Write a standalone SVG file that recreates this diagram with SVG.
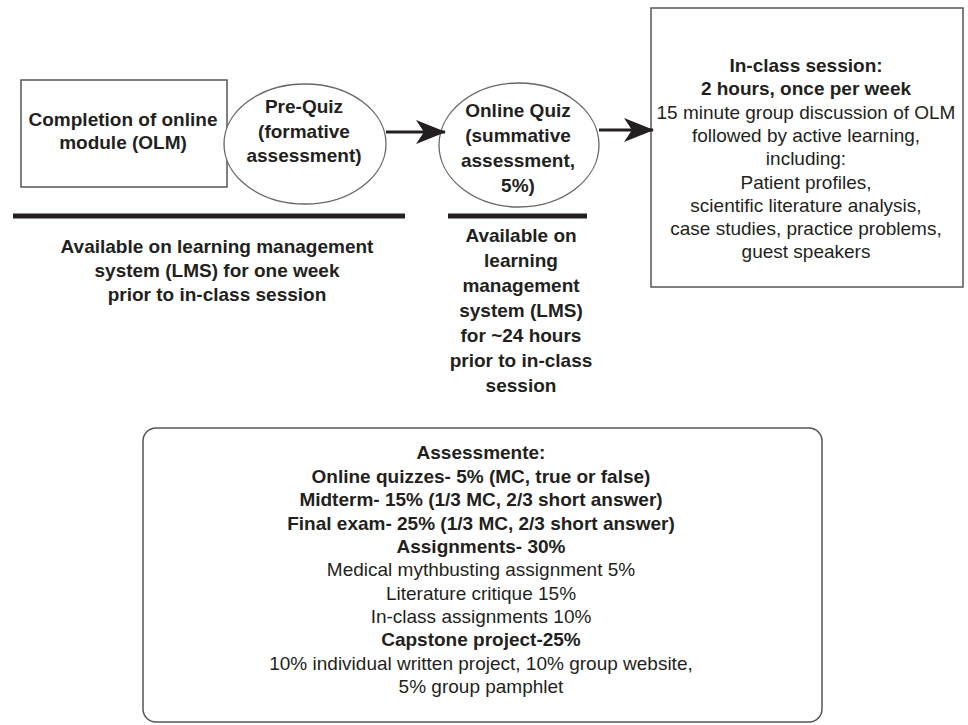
<svg xmlns="http://www.w3.org/2000/svg" width="968" height="725" viewBox="0 0 968 725">
  <defs>
    <style>
      text { font-family: "Liberation Sans", Arial, sans-serif; font-size: 19px; fill: #231f20; text-anchor: middle; }
      .b { font-weight: bold; }
      .box { fill: #ffffff; stroke: #555555; stroke-width: 1.5; }
      .ell { fill: #ffffff; stroke: #666666; stroke-width: 1.3; }
      .bar { stroke: #231f20; stroke-width: 5; }
      .conn { stroke: #231f20; stroke-width: 3; fill: none; }
    </style>
    <marker id="arr" viewBox="0 0 30 24" refX="29" refY="12" markerWidth="30" markerHeight="24" markerUnits="userSpaceOnUse" orient="auto">
      <path d="M0,0 L30,12 L0,24 L8,12 Z" fill="#231f20"/>
    </marker>
  </defs>
  <rect width="968" height="725" fill="#ffffff"/>

  <g id="olm">
    <rect class="box" x="21" y="80" width="206" height="107"/>
    <text class="b" x="123" y="126">Completion of online</text>
    <text class="b" x="123" y="149">module (OLM)</text>
  </g>

  <g id="prequiz">
    <ellipse class="ell" cx="305" cy="144" rx="81" ry="60"/>
    <text class="b" x="304" y="113">Pre-Quiz</text>
    <text class="b" x="304" y="137.5">(formative</text>
    <text class="b" x="304" y="162">assessment)</text>
  </g>

  <g id="onlinequiz">
    <ellipse class="ell" cx="519" cy="145" rx="80" ry="62"/>
    <text class="b" x="518" y="117">Online Quiz</text>
    <text class="b" x="518" y="142">(summative</text>
    <text class="b" x="518" y="167">assessment,</text>
    <text class="b" x="518" y="192">5%)</text>
  </g>

  <g id="inclass">
    <rect class="box" x="651" y="8" width="312" height="279"/>
    <text class="b" x="806" y="72">In-class session:</text>
    <text class="b" x="806" y="95.3">2 hours, once per week</text>
    <text x="806" y="118.6">15 minute group discussion of OLM</text>
    <text x="806" y="141.9">followed by active learning,</text>
    <text x="806" y="165.2">including:</text>
    <text x="806" y="188.5">Patient profiles,</text>
    <text x="806" y="211.8">scientific literature analysis,</text>
    <text x="806" y="235.1">case studies, practice problems,</text>
    <text x="806" y="258.4">guest speakers</text>
  </g>

  <g id="lms-week">
    <line class="bar" x1="13" y1="216" x2="405" y2="216"/>
    <text class="b" x="217" y="253">Available on learning management</text>
    <text class="b" x="217" y="277">system (LMS) for one week</text>
    <text class="b" x="217" y="301">prior to in-class session</text>
  </g>

  <g id="lms-24h">
    <line class="bar" x1="448" y1="216" x2="587" y2="216"/>
    <text class="b" x="521" y="242">Available on</text>
    <text class="b" x="521" y="267">learning</text>
    <text class="b" x="521" y="292">management</text>
    <text class="b" x="521" y="317">system (LMS)</text>
    <text class="b" x="521" y="342">for ~24 hours</text>
    <text class="b" x="521" y="367">prior to in-class</text>
    <text class="b" x="521" y="392">session</text>
  </g>

  <g id="assessment">
    <rect class="box" x="143" y="428" width="679" height="294" rx="13" ry="13"/>
    <text class="b" x="481" y="459">Assessmente:</text>
    <text class="b" x="481" y="482.5">Online quizzes- 5% (MC, true or false)</text>
    <text class="b" x="481" y="506">Midterm- 15% (1/3 MC, 2/3 short answer)</text>
    <text class="b" x="481" y="529.5">Final exam- 25% (1/3 MC, 2/3 short answer)</text>
    <text class="b" x="481" y="553">Assignments- 30%</text>
    <text x="481" y="576">Medical mythbusting assignment 5%</text>
    <text x="481" y="599.5">Literature critique 15%</text>
    <text x="481" y="623">In-class assignments 10%</text>
    <text class="b" x="481" y="646">Capstone project-25%</text>
    <text x="481" y="669.5">10% individual written project, 10% group website,</text>
    <text x="481" y="693">5% group pamphlet</text>
  </g>

  <g id="connectors">
    <line class="conn" x1="386" y1="132" x2="445" y2="132" marker-end="url(#arr)"/>
    <line class="conn" x1="599" y1="130" x2="653" y2="130" marker-end="url(#arr)"/>
  </g>
</svg>
